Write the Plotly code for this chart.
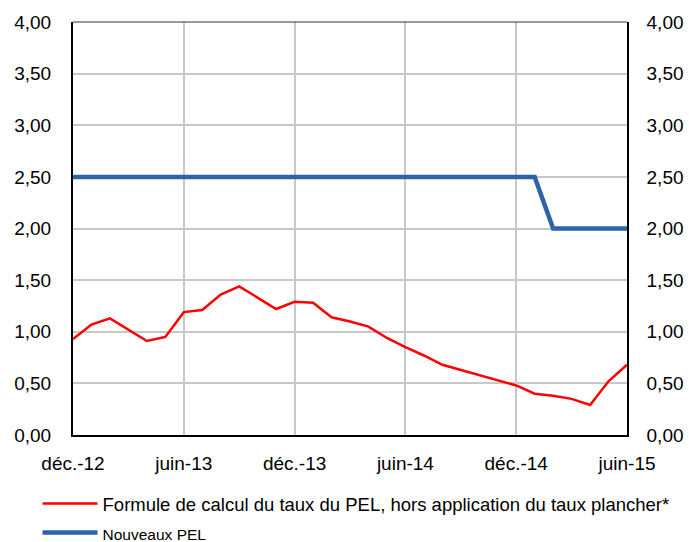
import plotly.graph_objects as go

months = ["déc.-12", "janv.-13", "févr.-13", "mars-13", "avr.-13", "mai-13",
          "juin-13", "juil.-13", "août-13", "sept.-13", "oct.-13", "nov.-13",
          "déc.-13", "janv.-14", "févr.-14", "mars-14", "avr.-14", "mai-14",
          "juin-14", "juil.-14", "août-14", "sept.-14", "oct.-14", "nov.-14",
          "déc.-14", "janv.-15", "févr.-15", "mars-15", "avr.-15", "mai-15",
          "juin-15"]

formule_pel = [0.93, 1.07, 1.13, 1.02, 0.91, 0.95, 1.19, 1.21, 1.36, 1.44,
               1.33, 1.22, 1.29, 1.28, 1.14, 1.10, 1.05, 0.94, 0.85, 0.77,
               0.68, 0.63, 0.58, 0.53, 0.48, 0.40, 0.38, 0.35, 0.29, 0.52,
               0.68]

nouveaux_pel = [2.50] * 26 + [2.00] * 5

tick_labels = ["déc.-12", "juin-13", "déc.-13", "juin-14", "déc.-14", "juin-15"]
y_ticks = [0, 0.5, 1, 1.5, 2, 2.5, 3, 3.5, 4]

FONT = "Liberation Sans, Arial, sans-serif"

fig = go.Figure()
fig.add_trace(go.Scatter(
    x=months, y=formule_pel, mode="lines",
    name="Formule de calcul du taux du PEL, hors application du taux plancher*",
    line=dict(color="#FF0000", width=2.5), legendgroup="a"))
fig.add_trace(go.Scatter(
    x=months, y=nouveaux_pel, mode="lines",
    name='<span style="font-size:15.5px">Nouveaux PEL</span>',
    line=dict(color="#2C63A9", width=4.5), yaxis="y2", legendgroup="b"))

yaxis_common = dict(
    range=[0, 4], tickmode="array", tickvals=y_ticks, tickformat=".2f",
    tickfont=dict(family=FONT, size=19, color="#000"),
    showline=True, linecolor="#000", zeroline=False, automargin=False,
    fixedrange=True)

fig.update_layout(
    width=689, height=542,
    margin=dict(l=73, r=62, t=22, b=107, autoexpand=False),
    paper_bgcolor="white", plot_bgcolor="white",
    separators=", ",
    font=dict(family=FONT, color="#000"),
    showlegend=True,
    xaxis=dict(type="category", categoryorder="array", categoryarray=months,
               range=[0, 30], tickmode="array", tickvals=tick_labels,
               ticktext=tick_labels,
               tickfont=dict(family=FONT, size=19, color="#000"),
               showgrid=True, gridcolor="#C8C8C8", gridwidth=2,
               showline=True, linecolor="#000", linewidth=2,
               ticklabelstandoff=10, zeroline=False, automargin=False,
               fixedrange=True),
    yaxis=dict(**yaxis_common, linewidth=2, showgrid=True,
               gridcolor="#C8C8C8", gridwidth=2, side="left",
               ticklabelstandoff=16),
    yaxis2=dict(**yaxis_common, linewidth=1.5, showgrid=False,
                overlaying="y", side="right", anchor="x",
                ticklabelstandoff=14),
    legend=dict(x=-0.064, y=-0.121, xanchor="left", yanchor="top",
                orientation="v", tracegroupgap=2, itemwidth=55,
                font=dict(family=FONT, size=18.5, color="#000"),
                bgcolor="rgba(0,0,0,0)", borderwidth=0),
    shapes=[dict(type="line", xref="paper", yref="paper", x0=0, x1=1,
                 y0=1, y1=1, line=dict(color="#333", width=1))],
)

fig.write_html("out.html", config={"displayModeBar": False},
               post_script="document.body.style.margin='0';")
